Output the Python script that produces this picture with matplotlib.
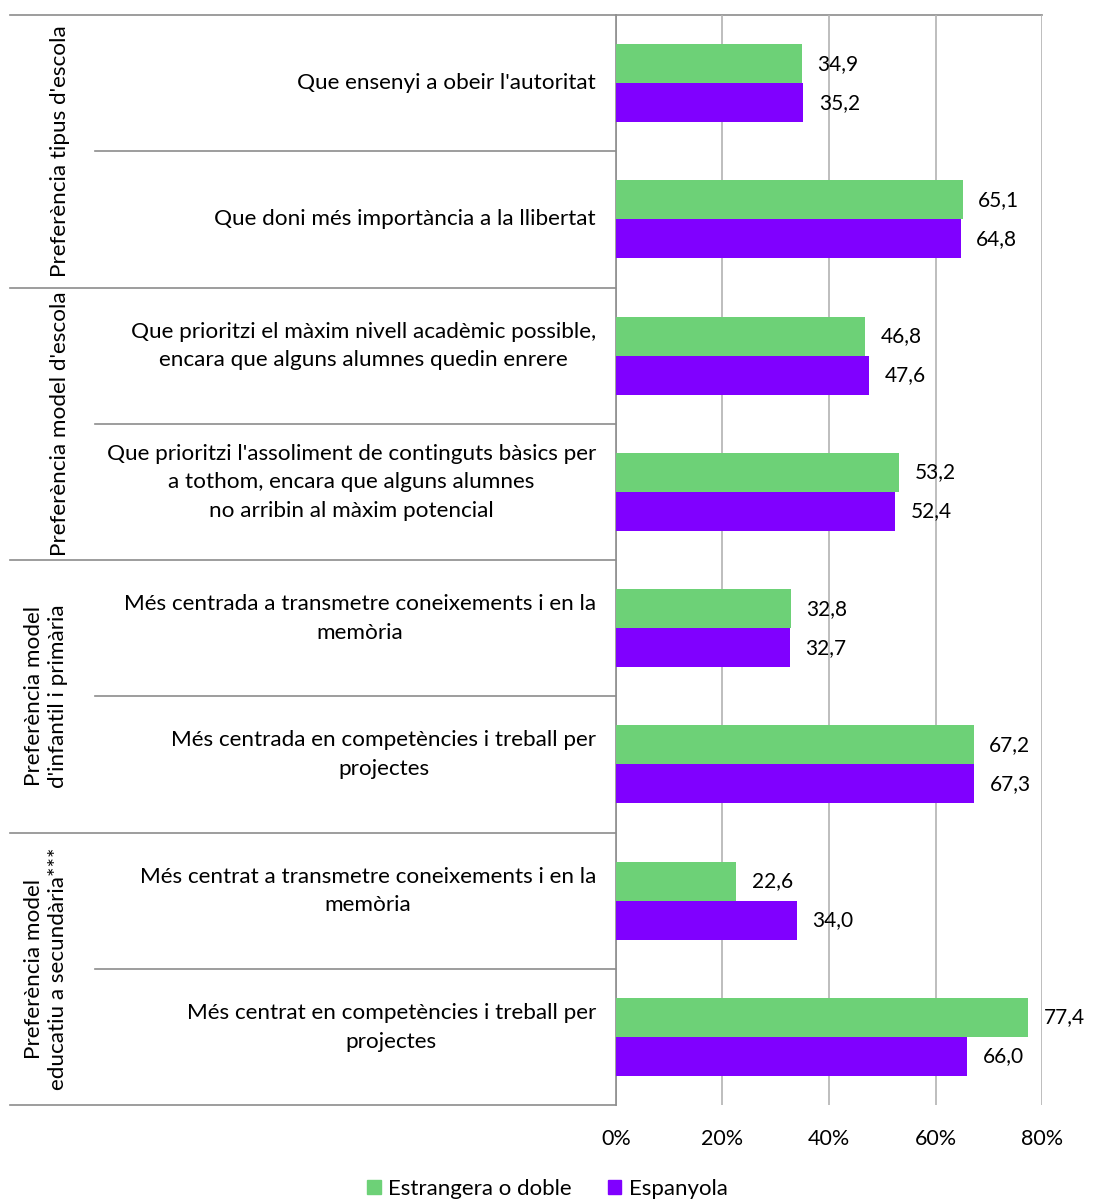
import matplotlib.pyplot as plt
import matplotlib.transforms as mtransforms
import numpy as np
from matplotlib.patches import Patch

plt.rcParams['font.family'] = ['Lato', 'DejaVu Sans']

categories = [
    "Que ensenyi a obeir l'autoritat",
    "Que doni més importància a la llibertat",
    "Que prioritzi el màxim nivell acadèmic possible,\nencara que alguns alumnes quedin enrere",
    "Que prioritzi l'assoliment de continguts bàsics per\na tothom, encara que alguns alumnes\nno arribin al màxim potencial",
    "Més centrada a transmetre coneixements i en la\nmemòria",
    "Més centrada en competències i treball per\nprojectes",
    "Més centrat a transmetre coneixements i en la\nmemòria",
    "Més centrat en competències i treball per\nprojectes",
]
groups = [
    "Preferència tipus d'escola",
    "Preferència model d'escola",
    "Preferència model\nd'infantil i primària",
    "Preferència model\neducatiu a secundària***",
]
estrangera = [34.9, 65.1, 46.8, 53.2, 32.8, 67.2, 22.6, 77.4]
espanyola = [35.2, 64.8, 47.6, 52.4, 32.7, 67.3, 34.0, 66.0]
xticks = [0, 20, 40, 60, 80]

green = '#6dd177'
purple = '#8000ff'
W, H = 1095, 1200

fig = plt.figure(figsize=(W / 100, H / 100), dpi=100)
ax = fig.add_axes([616 / W, 1 - 1105 / H, (1042 - 616) / W, (1105 - 15) / H])

y = np.arange(len(categories))
h = 0.286
ax.barh(y - h / 2, estrangera, height=h, color=green, zorder=3)
ax.barh(y + h / 2, espanyola, height=h, color=purple, zorder=3)

for yi, v in zip(y - h / 2, estrangera):
    ax.annotate(f"{v:.1f}".replace('.', ','), (v, yi), xytext=(11, 0),
                textcoords='offset points', va='center', fontsize=15)
for yi, v in zip(y + h / 2, espanyola):
    ax.annotate(f"{v:.1f}".replace('.', ','), (v, yi), xytext=(11, 0),
                textcoords='offset points', va='center', fontsize=15)

ax.set_xlim(0, 80)
ax.set_ylim(len(categories) - 0.5, -0.5)
ax.set_xticks(xticks)
ax.set_xticklabels([f"{t}%" for t in xticks], fontsize=15.5)
ax.tick_params(axis='x', length=0, pad=17)
ax.set_yticks([])
ax.grid(axis='x', color='#b3b3b3', linewidth=1.2, zorder=0)
for s in ['right', 'bottom', 'top']:
    ax.spines[s].set_visible(False)
ax.spines['left'].set_color('#8c8c8c')
ax.spines['left'].set_linewidth(1.2)

# category labels and separator lines on the left
trans = mtransforms.blended_transform_factory(fig.transFigure, ax.transData)
for i, lab in enumerate(categories):
    dy = -0.07 if '\n' in lab else 0
    ax.text(596 / W, i + dy, lab, transform=trans, ha='right',
            va='center', multialignment='center', fontsize=16.2, linespacing=1.55)

for b in np.arange(-0.5, len(categories), 1.0):
    k = int(b + 0.5)
    x0 = 10 / W if k % 2 == 0 else 95 / W
    x1 = 1042 / W if k == 0 else 616 / W
    ax.plot([x0, x1], [b, b], transform=trans, color='#8c8c8c', lw=1.2,
            clip_on=False, zorder=1)

for g, lab in enumerate(groups):
    xc = 60 / W if '\n' not in lab else 46 / W
    ax.text(xc, 2 * g + 0.5, lab, transform=trans, rotation=90, ha='center',
            va='center', multialignment='center', fontsize=16.2, linespacing=1.3)

# legend
handles = [Patch(color=green, label='Estrangera o doble'),
           Patch(color=purple, label='Espanyola')]
fig.legend(handles=handles, loc='center', bbox_to_anchor=(0.5, 1 - 1189 / H),
           ncol=2, frameon=False, fontsize=16, handlelength=0.6, handleheight=0.6,
           handletextpad=0.35, columnspacing=1.6)

fig.savefig('out.png', dpi=100)
